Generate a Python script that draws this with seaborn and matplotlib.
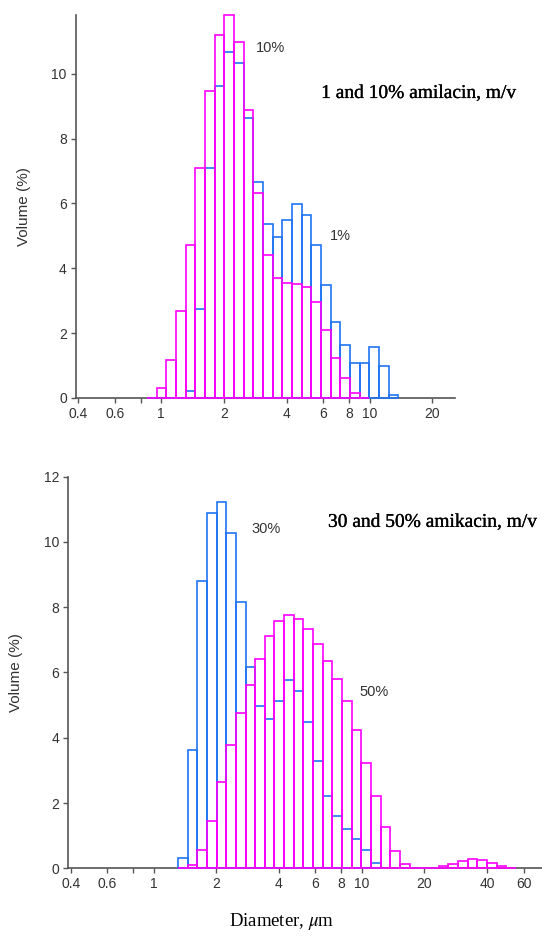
import matplotlib
matplotlib.use("Agg")
import matplotlib.pyplot as plt
import matplotlib.patheffects as pe
import numpy as np
import pandas as pd
import seaborn as sns
from matplotlib.ticker import NullLocator

# log-spaced size classes of the diffraction instrument (um)
bin_edges = 10 ** (-0.0685 + 0.0464 * np.arange(41))

# upper panel: 1 and 10 % amikacin, volume % per size class
top_first_bin = 0
pct1 = [0, 0, 0, 0, 0.23, 2.74, 7.10, 9.63, 10.67, 10.33, 8.62, 6.66, 5.35,
        4.97, 5.48, 5.99, 5.64, 4.73, 3.48, 2.34, 1.62, 1.07, 1.07, 1.58,
        1.00, 0.08]
pct10 = [0, 0.30, 1.18, 2.68, 4.72, 7.10, 9.48, 11.20, 11.81, 10.98, 8.87,
         6.31, 4.41, 3.70, 3.55, 3.52, 3.42, 2.97, 2.10, 1.23, 0.62, 0.16, 0]

# lower panel: 30 and 50 % amikacin
bottom_first_bin = 4
pct30 = [0.33, 3.63, 8.80, 10.88, 11.22, 10.26, 8.15, 6.18, 4.97, 4.56, 5.12,
         5.77, 5.42, 4.48, 3.28, 2.21, 1.59, 1.21, 0.90, 0.56, 0.17]
pct50 = [0, 0.11, 0.56, 1.46, 2.63, 3.77, 4.76, 5.63, 6.42, 7.11, 7.59, 7.77,
         7.63, 7.32, 6.87, 6.35, 5.79, 5.12, 4.24, 3.24, 2.20, 1.25, 0.53,
         0.14, 0, 0, 0, 0.06, 0.13, 0.23, 0.29, 0.26, 0.15, 0.06, 0.02]

top_ticks = [0.4, 0.6, 0.8, 1, 2, 4, 6, 8, 10, 20]
top_labels = ["0.4", "0.6", "", "1", "2", "4", "6", "8", "10", "20"]
bottom_ticks = [0.4, 0.6, 0.8, 1, 2, 4, 6, 8, 10, 20, 40, 60]
bottom_labels = ["0.4", "0.6", "", "1", "2", "4", "6", "8", "10", "20", "40", "60"]

BLUE = "#1f74f5"
MAGENTA = "#ff00ff"
AXIS = "#555555"

sns.set_style("ticks")
plt.rcParams["font.family"] = ["Liberation Sans", "DejaVu Sans"]
plt.rcParams["mathtext.fontset"] = "stix"

heavy = [pe.withStroke(linewidth=0.2, foreground="black")]


def draw_series(ax, values, first, color):
    edges = bin_edges[first:first + len(values) + 1]
    df = pd.DataFrame({
        "size": np.sqrt(edges[:-1] * edges[1:]),
        "volume": np.asarray(values, dtype=float),
    })
    n_before = len(ax.patches)
    sns.histplot(data=df, x="size", weights="volume", bins=list(edges),
                 element="bars", fill=False, color=color, linewidth=1.2,
                 ax=ax)
    # keep the bar bottoms (and empty classes) visible on top of the axis line
    for patch in ax.patches[n_before:]:
        patch.set_zorder(3)
        patch.set_clip_on(False)


def style_axis(ax, xlim, ylim, yticks, xticks, xlabels):
    ax.set_xscale("log")
    ax.set_xlim(*xlim)
    ax.set_ylim(*ylim)
    ax.set_xticks(xticks)
    ax.set_xticklabels(xlabels)
    ax.xaxis.set_minor_locator(NullLocator())
    ax.set_yticks(yticks)
    ax.set_xlabel("")
    ax.set_ylabel("Volume (%)", fontsize=11, color="#333333")
    for side in ["top", "right"]:
        ax.spines[side].set_visible(False)
    for side in ["left", "bottom"]:
        ax.spines[side].set_color(AXIS)
        ax.spines[side].set_linewidth(1.2)
    ax.tick_params(colors=AXIS, labelcolor="#333333", labelsize=10,
                   length=3.6, width=1, pad=3)
    ax.set_facecolor("none")


fig = plt.figure(figsize=(5.42, 9.4), dpi=100)
fig.patch.set_facecolor("white")

ax1 = fig.add_axes([0.1402, 0.5766, 0.6993, 0.4078])
draw_series(ax1, pct1, top_first_bin, BLUE)
draw_series(ax1, pct10, top_first_bin, MAGENTA)
style_axis(ax1, (0.39, 25.66), (0, 11.82), [0, 2, 4, 6, 8, 10],
           top_ticks, top_labels)
ax1.yaxis.set_label_coords(-0.119, 0.5)
ax1.text(2.85, 10.78, "10%", fontsize=10.5, color="#333333", va="center")
ax1.text(6.45, 4.99, "1%", fontsize=10.5, color="#333333", va="center")
ax1.text(5.85, 9.39, "1 and 10% amilacin, m/v", family="Liberation Serif",
         fontsize=14, va="center", color="black", path_effects=heavy)

ax2 = fig.add_axes([0.126, 0.0763, 0.874, 0.4166])
draw_series(ax2, pct30, bottom_first_bin, BLUE)
draw_series(ax2, pct50, bottom_first_bin, MAGENTA)
style_axis(ax2, (0.389, 73.6), (0, 12), [0, 2, 4, 6, 8, 10, 12],
           bottom_ticks, bottom_labels)
ax2.yaxis.set_label_coords(-0.0956, 0.5)
ax2.text(2.97, 10.39, "30%", fontsize=10.5, color="#333333", va="center")
ax2.text(9.81, 5.39, "50%", fontsize=10.5, color="#333333", va="center")
ax2.text(6.89, 10.60, "30 and 50% amikacin, m/v", family="Liberation Serif",
         fontsize=14, va="center", color="black", path_effects=heavy)

fig.text(0.52, 0.0195, r"Diameter, $\mu$m", family="Liberation Serif",
         fontsize=13.5, ha="center", va="center", color="black")

fig.savefig("out.png", dpi=100, facecolor="white")
plt.close(fig)
